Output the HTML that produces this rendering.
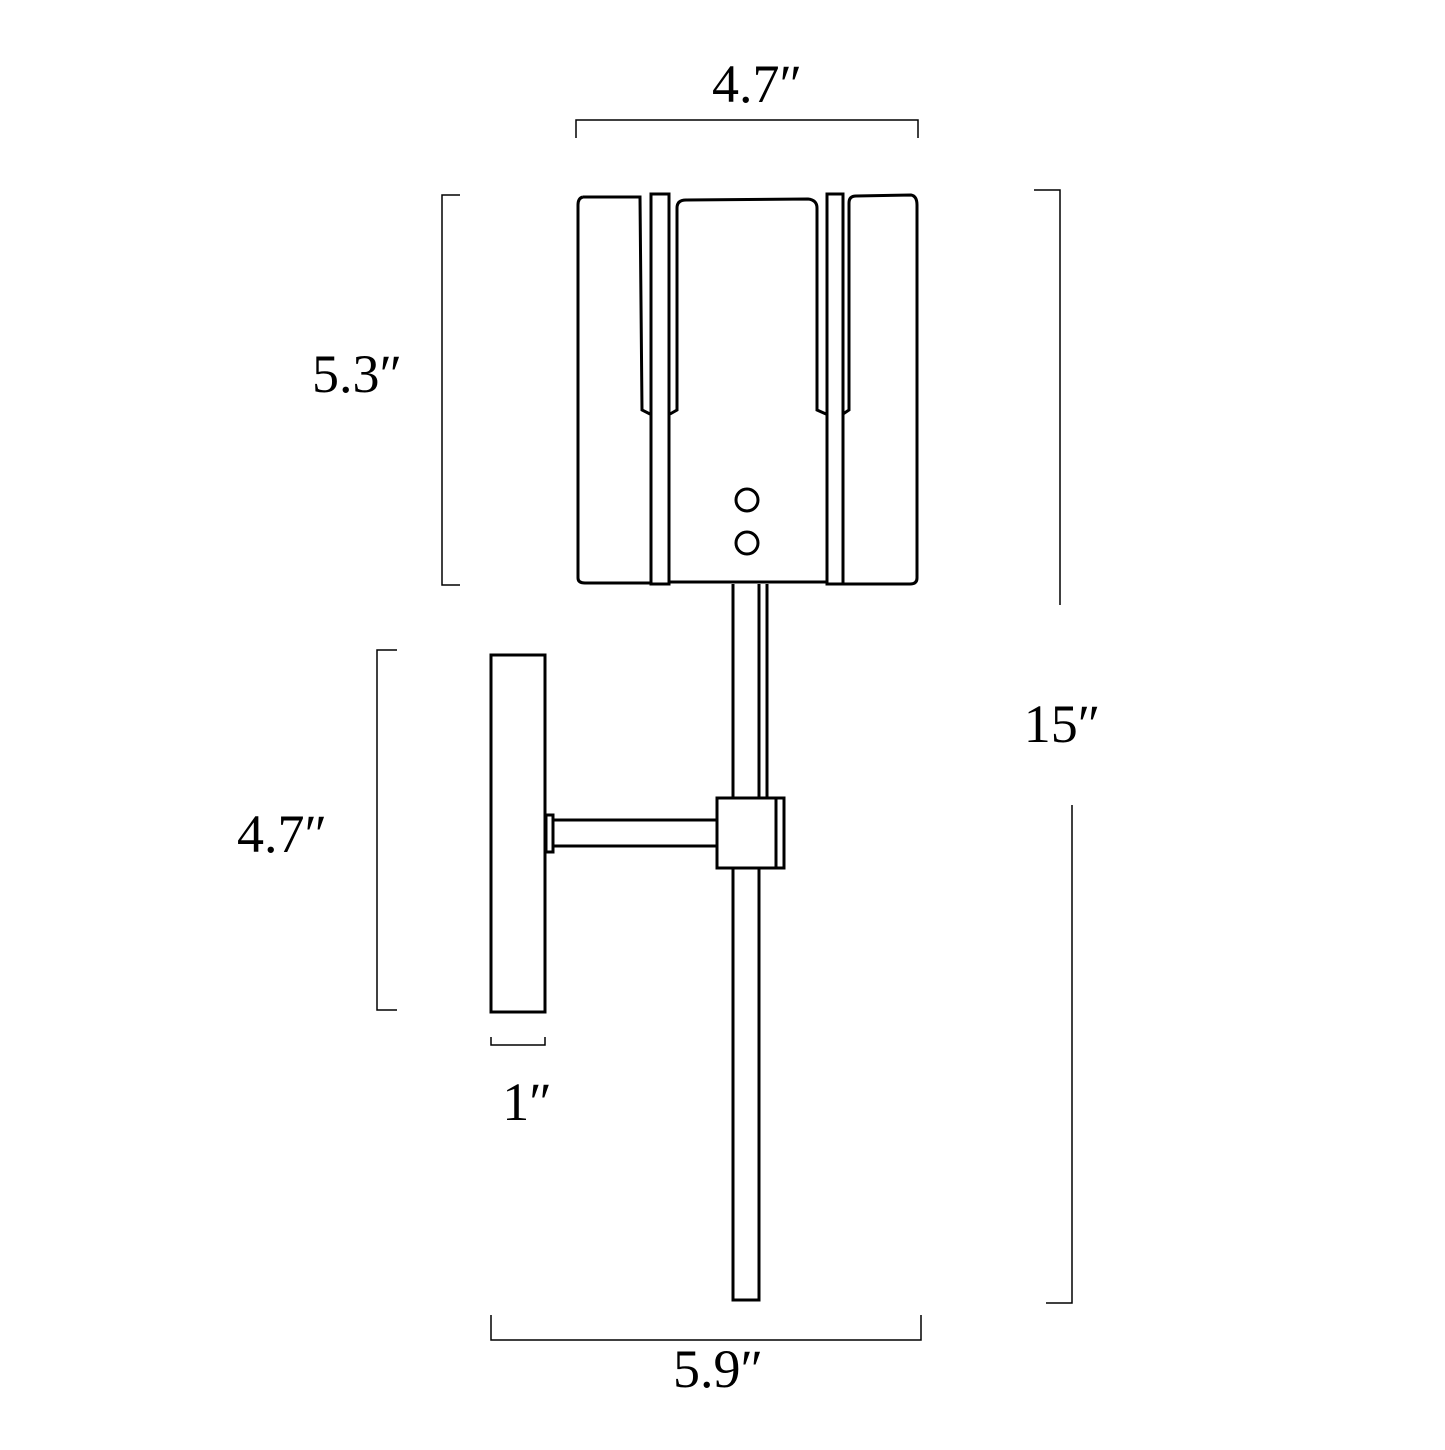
<!DOCTYPE html>
<html><head><style>body{margin:0;background:#fff}</style></head><body>
<svg width="1445" height="1445" viewBox="0 0 1445 1445" xmlns="http://www.w3.org/2000/svg">
<g fill="none" stroke="#000" stroke-width="3">
<path d="M583 197 L640 197 L642 410 L650 414 M583 197 Q578 198 578 205 L578 578 Q578 583 585 583 L650 583"/>
<rect x="651" y="194" width="18" height="390"/>
<path d="M670 414 L677 410 L677 208 Q677 200 686 200 L808 199 Q817 200 817 208 L817 410 L826 414 M670 582 L826 582"/>
<rect x="827" y="194" width="16" height="390"/>
<path d="M843 414 L849 410 L849 203 Q849 196 856 196 L911 195 Q917 196 917 205 L917 578 Q917 584 910 584 L844 584"/>
<circle cx="747" cy="500" r="11"/>
<circle cx="747" cy="543" r="11"/>
<path d="M733 584 L733 798 M759 584 L759 798 M767 584 L767 798"/>
<rect x="733" y="868" width="26" height="432"/>
<rect x="717" y="798" width="67" height="70"/>
<path d="M776 798 L776 868"/>
<path d="M553 820 L717 820 M553 846 L717 846"/>
<rect x="546" y="815" width="7" height="37"/>
<rect x="491" y="655" width="54" height="357"/>
</g>
<g fill="none" stroke="#000" stroke-width="1.5">
<path d="M576 138 L576 120 L918 120 L918 138"/>
<path d="M460 195 L442 195 L442 585 L460 585"/>
<path d="M1034 190 L1060 190 L1060 605"/>
<path d="M1072 805 L1072 1303 L1046 1303"/>
<path d="M397 650 L377 650 L377 1010 L397 1010"/>
<path d="M491 1037 L491 1045 L545 1045 L545 1037"/>
<path d="M491 1315 L491 1340 L921 1340 L921 1315"/>
</g>
<g font-family="Liberation Serif, serif" font-size="54" fill="#000">
<text x="757" y="102" text-anchor="middle">4.7″</text>
<text x="357" y="392" text-anchor="middle">5.3″</text>
<text x="1062" y="742" text-anchor="middle">15″</text>
<text x="282" y="852" text-anchor="middle">4.7″</text>
<text x="527" y="1120" text-anchor="middle">1″</text>
<text x="718" y="1387" text-anchor="middle">5.9″</text>
</g>
</svg>
</body></html>
